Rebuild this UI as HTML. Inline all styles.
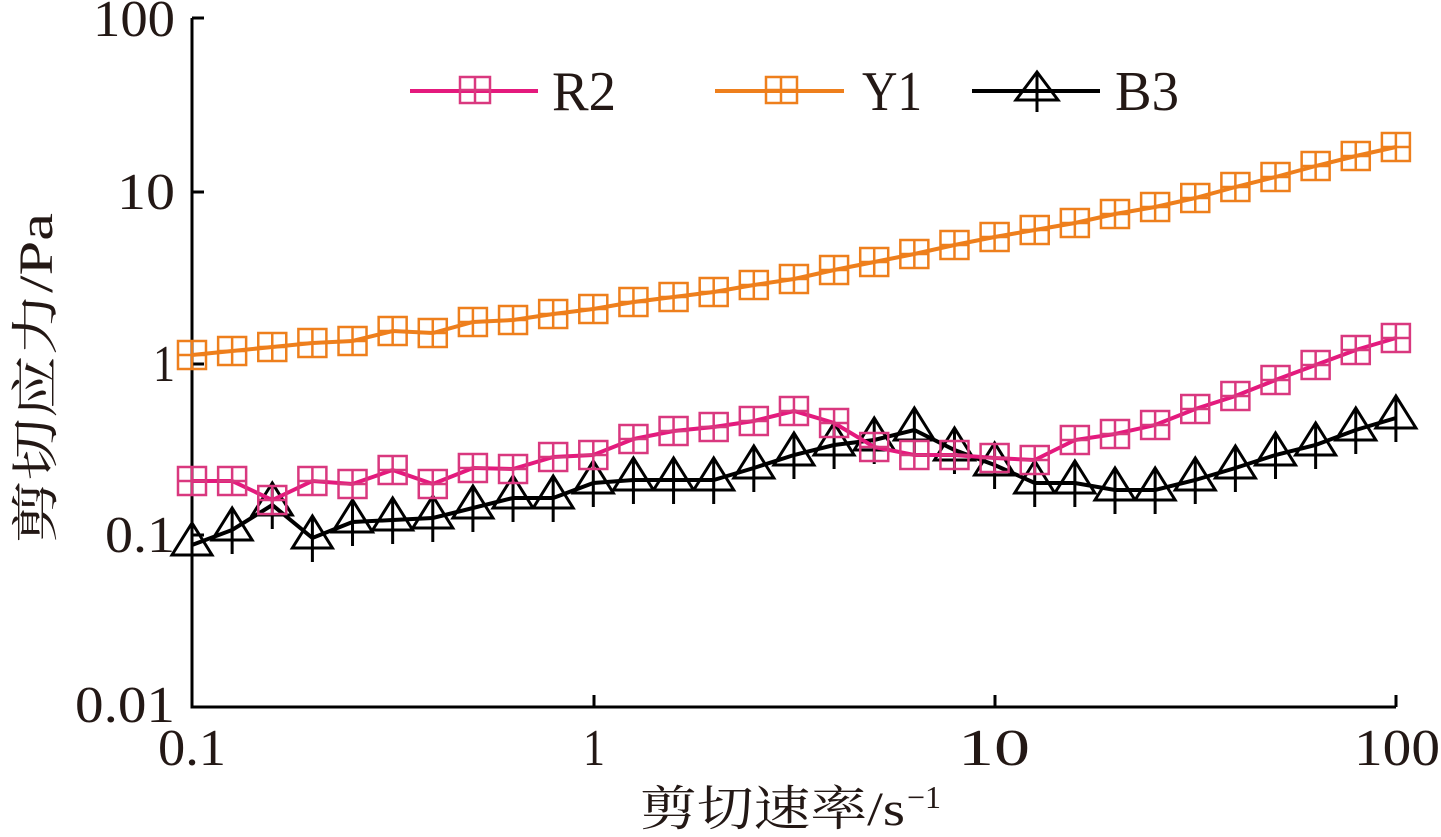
<!DOCTYPE html>
<html><head><meta charset="utf-8"><style>
html,body{margin:0;padding:0;background:#fff;}
svg{display:block;}
text{font-family:"Liberation Serif","Noto Serif CJK SC",serif;fill:#231815;}
</style></head><body>
<svg id="s" width="1441" height="837" viewBox="0 0 1441 837">
<g stroke="#000" stroke-width="3" fill="none">
<path d="M192,18 V707 H1396"/>
<path d="M192,18 H204 M192,192 H204 M192,364 H204 M192,535 H204"/>
<path d="M594,707 V695 M995,707 V695 M1396,707 V695"/>
</g>
<g font-size="52">
<text x="93" y="36" textLength="82" lengthAdjust="spacingAndGlyphs">100</text>
<text x="117" y="209" textLength="58" lengthAdjust="spacingAndGlyphs">10</text>
<text x="153" y="381" textLength="22" lengthAdjust="spacingAndGlyphs">1</text>
<text x="105" y="552" textLength="70" lengthAdjust="spacingAndGlyphs">0.1</text>
<text x="75" y="722" textLength="100" lengthAdjust="spacingAndGlyphs">0.01</text>
<text x="158" y="765" textLength="68" lengthAdjust="spacingAndGlyphs">0.1</text>
<text x="583" y="765" textLength="22" lengthAdjust="spacingAndGlyphs">1</text>
<text x="958" y="765" textLength="72" lengthAdjust="spacingAndGlyphs">10</text>
<text x="1354" y="765" textLength="86" lengthAdjust="spacingAndGlyphs">100</text>
</g>
<text x="640" y="825" font-size="48" textLength="265" lengthAdjust="spacingAndGlyphs">剪切速率/s</text>
<text x="907" y="808" font-size="32">−1</text>
<text font-size="48" text-anchor="middle" transform="translate(52,378) rotate(-90)" textLength="330" lengthAdjust="spacingAndGlyphs">剪切应力/Pa</text>
<g id="g"></g>
<g font-size="56">
<line x1="410" y1="91" x2="538" y2="91" stroke="#e4197d" stroke-width="4"/>
<rect x="460" y="77" width="30" height="26" fill="none" stroke="#d9387f" stroke-width="2.5"/>
<path d="M475,77V103M460,90H490" stroke="#d9387f" stroke-width="2.5"/>
<text x="552" y="110" textLength="64" lengthAdjust="spacingAndGlyphs">R2</text>
<line x1="715" y1="91" x2="844" y2="91" stroke="#ee7f1c" stroke-width="4"/>
<rect x="766" y="77" width="31" height="26" fill="none" stroke="#ee7f1c" stroke-width="2.5"/>
<path d="M781,77V103M766,90H797" stroke="#ee7f1c" stroke-width="2.5"/>
<text x="862" y="110" textLength="60" lengthAdjust="spacingAndGlyphs">Y1</text>
<line x1="972" y1="91" x2="1100" y2="91" stroke="#000" stroke-width="4"/>
<path d="M1037,72L1016,100H1058Z M1037,72V112" fill="none" stroke="#000" stroke-width="3"/>
<text x="1115" y="110" textLength="64" lengthAdjust="spacingAndGlyphs">B3</text>
</g>
</svg>
<script>
var Y1=[355,351,347,343,341,331,333,322,320,314,309,302,297,292,285,279,270,262,254,245,237,230,223,214,207,198,187,177,166,156,147];
var R2=[481,481,500,481,484,470,484,468,469,457,455,439,431,427,421,411,423,447,455,455,458,460,440,434,425,409,396,380,365,350,338];
var B3=[545,530,505,538,522,520,518,508,498,498,483,480,480,480,468,455,445,440,430,450,465,483,483,490,490,480,468,455,445,430,418];
var g=document.getElementById('g'),h='';
function X(i){return 192+i*40.13;}
function line(a,c){var d='M'+a.map(function(y,i){return X(i).toFixed(1)+','+y}).join('L');h+='<path d="'+d+'" fill="none" stroke="'+c+'" stroke-width="4"/>';}
function sq(a,c){a.forEach(function(y,i){var x=X(i);h+='<rect x="'+(x-14)+'" y="'+(y-14)+'" width="28" height="28" fill="none" stroke="'+c+'" stroke-width="2.5"/><path d="M'+x+','+(y-14)+'V'+(y+14)+'M'+(x-14)+','+y+'H'+(x+14)+'" stroke="'+c+'" stroke-width="2.5"/>';});}
function tri(a){a.forEach(function(y,i){var x=X(i);h+='<path d="M'+x+','+(y-22)+'L'+(x-20)+','+(y+10)+'H'+(x+20)+'Z M'+x+','+(y-22)+'V'+(y+24)+'" fill="none" stroke="#000" stroke-width="3"/>';});}
line(Y1,'#ee7f1c');sq(Y1,'#ee7f1c');
line(B3,'#000');tri(B3);
line(R2,'#e4197d');sq(R2,'#d9387f');
g.innerHTML=h;
</script>
</body></html>
